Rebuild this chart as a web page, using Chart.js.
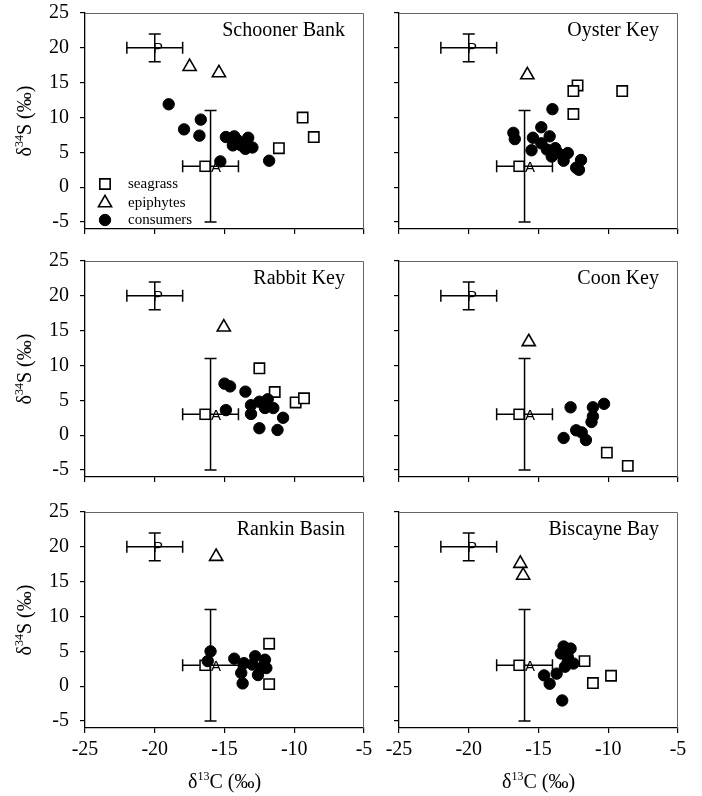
<!DOCTYPE html>
<html>
<head>
<meta charset="utf-8">
<script src="https://cdn.jsdelivr.net/npm/chart.js@4.4.1/dist/chart.umd.min.js"></script>
<style>
  html, body { margin: 0; padding: 0; background: #fff; }
  #fig { position: relative; width: 702px; height: 796px; overflow: hidden; }
  .panel { position: absolute; }
  .panel canvas { display: block; }
</style>
</head>
<body>
<div id="fig"></div>
<script>
// Axis ticks (per mil)
const xTicks = [-25, -20, -15, -10, -5];
const yTicks = [-5, 0, 5, 10, 15, 20, 25];

// End-member sources: mean ± SD for δ13C and δ34S
const endLabels = ['P', 'A'];
const endC = [-20, -16];
const endS = [20, 3];
const endCsd = [2, 2];
const endSsd = [2, 8];

// Site names, in panel order
const siteNames = ['Schooner Bank', 'Oyster Key', 'Rabbit Key', 'Coon Key', 'Rankin Basin', 'Biscayne Bay'];

// [δ13C, δ34S] pairs per site and group
const schoonerSeagrass = [[-9.4, 10.0], [-8.6, 7.2], [-11.1, 5.6]];
const schoonerEpiphytes = [[-17.5, 17.3], [-15.4, 16.4]];
const schoonerConsumers = [[-19.0, 11.9], [-16.7, 9.7], [-17.9, 8.3], [-16.8, 7.4], [-15.3, 3.7], [-11.8, 3.8],
  [-14.9, 7.2], [-14.3, 7.3], [-13.3, 7.1], [-14.4, 6.0], [-13.8, 6.0], [-13.5, 5.5], [-13.0, 5.7], [-14.05, 6.7]];

const oysterSeagrass = [[-12.2, 14.6], [-12.5, 13.8], [-9.0, 13.8], [-12.5, 10.5]];
const oysterEpiphytes = [[-15.8, 16.1]];
const oysterConsumers = [[-14.0, 11.2], [-16.8, 7.8], [-16.7, 6.9], [-14.8, 8.6], [-15.4, 7.1], [-14.2, 7.3],
  [-15.5, 5.3], [-14.8, 6.3], [-14.4, 5.4], [-13.8, 5.6], [-13.6, 4.9], [-14.05, 4.4], [-13.2, 3.8],
  [-12.9, 4.9], [-11.95, 3.9], [-12.3, 2.8], [-12.1, 2.5]];

const rabbitSeagrass = [[-12.5, 9.6], [-11.4, 6.2], [-9.9, 4.7], [-9.3, 5.3]];
const rabbitEpiphytes = [[-15.05, 15.5]];
const rabbitConsumers = [[-15.0, 7.4], [-14.6, 7.0], [-13.5, 6.25], [-13.1, 4.3], [-13.1, 3.05], [-12.5, 4.8],
  [-11.9, 5.15], [-12.1, 3.9], [-11.5, 3.9], [-10.8, 2.5], [-12.5, 1.0], [-11.2, 0.75], [-14.9, 3.6]];

const coonSeagrass = [[-10.1, -2.5], [-8.6, -4.4]];
const coonEpiphytes = [[-15.7, 13.4]];
const coonConsumers = [[-12.7, 4.0], [-11.1, 4.0], [-10.3, 4.5], [-11.1, 2.7], [-11.2, 1.9], [-12.3, 0.7],
  [-11.9, 0.4], [-11.6, -0.7], [-13.2, -0.4]];

const rankinSeagrass = [[-11.8, 6.1], [-11.8, 0.3]];
const rankinEpiphytes = [[-15.6, 18.6]];
const rankinConsumers = [[-16.0, 5.0], [-16.2, 3.6], [-14.3, 3.95], [-13.6, 3.3], [-13.8, 1.9], [-13.7, 0.4],
  [-12.8, 4.3], [-12.1, 3.8], [-12.4, 2.6], [-12.0, 2.6], [-12.6, 1.6], [-13.0, 3.1]];

const biscayneSeagrass = [[-11.7, 3.6], [-11.1, 0.45], [-9.8, 1.5]];
const biscayneEpiphytes = [[-16.3, 17.6], [-16.1, 15.9]];
const biscayneConsumers = [[-13.2, 5.7], [-12.7, 5.4], [-13.4, 4.7], [-12.9, 4.2], [-12.5, 3.25], [-13.1, 2.8],
  [-13.7, 1.8], [-14.6, 1.55], [-14.2, 0.35], [-13.3, -2.05], [-12.9, 3.5]];

const groupLabels = ['seagrass', 'epiphytes', 'consumers'];

const siteData = [
  [schoonerSeagrass, schoonerEpiphytes, schoonerConsumers],
  [oysterSeagrass, oysterEpiphytes, oysterConsumers],
  [rabbitSeagrass, rabbitEpiphytes, rabbitConsumers],
  [coonSeagrass, coonEpiphytes, coonConsumers],
  [rankinSeagrass, rankinEpiphytes, rankinConsumers],
  [biscayneSeagrass, biscayneEpiphytes, biscayneConsumers]
];

// ---- layout of the 3 x 2 grid ----
const colBox = [{ x: 0, w: 381, areaL: 85, areaR: 364 }, { x: 381, w: 321, areaL: 399, areaR: 678 }];
const rowBox = [{ y: 0, h: 246, areaT: 13, areaB: 229 }, { y: 246, h: 250, areaT: 261, areaB: 477 },
                { y: 496, h: 300, areaT: 512, areaB: 728 }];

const SERIF = '"Liberation Serif", "Times New Roman", serif';
const SANS = '"Liberation Sans", Arial, sans-serif';

const groupStyle = [
  { pointStyle: 'rect', pointRadius: 7.3, backgroundColor: '#fff', borderColor: '#000', borderWidth: 1.6 },
  { pointStyle: 'triangle', pointRadius: 7.6, backgroundColor: '#fff', borderColor: '#000', borderWidth: 1.6 },
  { pointStyle: 'circle', pointRadius: 5.7, backgroundColor: '#000', borderColor: '#000', borderWidth: 1 }
];

// text with superscript runs: parts = [[text, isSup], ...]
function drawRich(ctx, parts, x, y, size) {
  const supSize = Math.round(size * 0.62);
  let total = 0;
  for (const [t, sup] of parts) {
    ctx.font = (sup ? supSize : size) + 'px ' + SERIF;
    total += ctx.measureText(t).width;
  }
  let cx = x - total / 2;
  ctx.textAlign = 'left';
  ctx.textBaseline = 'alphabetic';
  for (const [t, sup] of parts) {
    ctx.font = (sup ? supSize : size) + 'px ' + SERIF;
    ctx.fillText(t, cx, sup ? y - size * 0.4 : y);
    cx += ctx.measureText(t).width;
  }
}

function drawMarker(ctx, style, x, y) {
  ctx.save();
  ctx.fillStyle = style.backgroundColor;
  ctx.strokeStyle = style.borderColor;
  ctx.lineWidth = style.borderWidth;
  const r = style.pointRadius;
  ctx.beginPath();
  if (style.pointStyle === 'rect') {
    const s = Math.SQRT1_2 * r;
    ctx.rect(x - s, y - s, 2 * s, 2 * s);
  } else if (style.pointStyle === 'triangle') {
    ctx.moveTo(x, y - r);
    ctx.lineTo(x + r * Math.sin(2 * Math.PI / 3), y - r * Math.cos(2 * Math.PI / 3));
    ctx.lineTo(x + r * Math.sin(4 * Math.PI / 3), y - r * Math.cos(4 * Math.PI / 3));
    ctx.closePath();
  } else {
    ctx.arc(x, y, r, 0, Math.PI * 2);
  }
  ctx.fill();
  ctx.stroke();
  ctx.restore();
}

// End-member crosses, drawn under the samples
const endMembers = {
  id: 'endMembers',
  beforeDatasetsDraw(chart) {
    const { ctx, scales: { x, y } } = chart;
    ctx.save();
    ctx.strokeStyle = '#000';
    ctx.fillStyle = '#000';
    ctx.lineWidth = 1.5;
    const cap = 6;
    for (let i = 0; i < endLabels.length; i++) {
      const px = x.getPixelForValue(endC[i]);
      const py = y.getPixelForValue(endS[i]);
      const x0 = x.getPixelForValue(endC[i] - endCsd[i]);
      const x1 = x.getPixelForValue(endC[i] + endCsd[i]);
      const y0 = y.getPixelForValue(endS[i] - endSsd[i]);
      const y1 = y.getPixelForValue(endS[i] + endSsd[i]);
      ctx.beginPath();
      ctx.moveTo(x0, py); ctx.lineTo(x1, py);
      ctx.moveTo(x0, py - cap); ctx.lineTo(x0, py + cap);
      ctx.moveTo(x1, py - cap); ctx.lineTo(x1, py + cap);
      ctx.moveTo(px, y0); ctx.lineTo(px, y1);
      ctx.moveTo(px - cap, y0); ctx.lineTo(px + cap, y0);
      ctx.moveTo(px - cap, y1); ctx.lineTo(px + cap, y1);
      ctx.stroke();
      ctx.font = '15px ' + SANS;
      ctx.textAlign = 'left';
      ctx.textBaseline = 'alphabetic';
      if (endLabels[i] === 'A') {
        ctx.fillStyle = '#fff';
        ctx.fillRect(px - 10.5, py - 5, 10, 10);
        ctx.strokeRect(px - 10.5, py - 5, 10, 10);
        ctx.fillStyle = '#000';
        ctx.fillText(endLabels[i], px + 0.5, py + 5.3);
      } else {
        ctx.fillText(endLabels[i], px - 1.8, py + 5);
      }
    }
    ctx.restore();
  }
};

// Frame, site name, legend and axis titles
const decorations = {
  id: 'decorations',
  afterDatasetsDraw(chart, args, opts) {
    const { ctx, chartArea: a } = chart;
    ctx.save();
    ctx.strokeStyle = '#666';
    ctx.lineWidth = 1;
    ctx.beginPath();
    ctx.moveTo(a.left, a.top + 0.5);
    ctx.lineTo(a.right - 0.5, a.top + 0.5);
    ctx.lineTo(a.right - 0.5, a.bottom);
    ctx.stroke();

    ctx.fillStyle = '#000';
    ctx.font = '20px ' + SERIF;
    ctx.textAlign = 'right';
    ctx.textBaseline = 'alphabetic';
    ctx.fillText(opts.site, a.right - 19, a.top + 23);

    if (opts.legend) {
      const rows = [a.bottom - 45, a.bottom - 26, a.bottom - 9];
      ctx.font = '15px ' + SERIF;
      for (let g = 0; g < groupLabels.length; g++) {
        drawMarker(ctx, groupStyle[g], a.left + 20, rows[g]);
        ctx.fillStyle = '#000';
        ctx.textAlign = 'left';
        ctx.fillText(groupLabels[g], a.left + 43, rows[g] + 4);
      }
    }

    ctx.fillStyle = '#000';
    if (opts.yTitle) {
      ctx.save();
      ctx.translate(31, (a.top + a.bottom) / 2);
      ctx.rotate(-Math.PI / 2);
      drawRich(ctx, [['δ', false], ['34', true], ['S (‰)', false]], 0, 0, 20);
      ctx.restore();
    }
    if (opts.xTitle) {
      drawRich(ctx, [['δ', false], ['13', true], ['C (‰)', false]], (a.left + a.right) / 2, chart.height - 8, 20);
    }
    ctx.restore();
  }
};

const fig = document.getElementById('fig');

siteNames.forEach((site, i) => {
  const row = Math.floor(i / 2), col = i % 2;
  const c = colBox[col], r = rowBox[row];
  const div = document.createElement('div');
  div.className = 'panel';
  div.style.left = c.x + 'px';
  div.style.top = r.y + 'px';
  div.style.width = c.w + 'px';
  div.style.height = r.h + 'px';
  const cv = document.createElement('canvas');
  cv.width = c.w;
  cv.height = r.h;
  div.appendChild(cv);
  fig.appendChild(div);

  const datasets = [2, 1, 0].map(g => Object.assign({
    label: groupLabels[g],
    data: siteData[i][g].map(p => ({ x: p[0], y: p[1] }))
  }, groupStyle[g], { pointHoverRadius: groupStyle[g].pointRadius }));

  new Chart(cv, {
    type: 'scatter',
    data: { datasets },
    plugins: [endMembers, decorations],
    options: {
      responsive: false,
      animation: false,
      devicePixelRatio: 1,
      layout: { padding: { left: 0, top: r.areaT - r.y, right: c.x + c.w - c.areaR, bottom: 0 } },
      plugins: {
        legend: { display: false },
        tooltip: { enabled: false },
        decorations: { site, legend: i === 0, yTitle: col === 0, xTitle: row === 2 }
      },
      scales: {
        x: {
          type: 'linear',
          min: -25, max: -5,
          afterBuildTicks: s => { s.ticks = xTicks.map(v => ({ value: v })); },
          afterFit: s => { s.height = r.y + r.h - r.areaB; s.paddingLeft = 0; s.paddingRight = 0; },
          ticks: {
            display: row === 2,
            color: '#000',
            font: { family: SERIF, size: 20 },
            padding: 5,
            maxRotation: 0,
            autoSkip: false
          },
          grid: { drawOnChartArea: false, drawTicks: true, tickLength: 5, color: '#000', lineWidth: 1.2 },
          border: { display: true, color: '#000', width: 1.3 }
        },
        y: {
          type: 'linear',
          min: -6, max: 25,
          afterBuildTicks: s => { s.ticks = yTicks.map(v => ({ value: v })); },
          afterFit: s => { s.width = c.areaL - c.x; s.paddingTop = 0; s.paddingBottom = 0; },
          ticks: {
            display: col === 0,
            color: '#000',
            font: { family: SERIF, size: 20 },
            padding: 11
          },
          grid: { drawOnChartArea: false, drawTicks: true, tickLength: 5, color: '#000', lineWidth: 1.2 },
          border: { display: true, color: '#000', width: 1.3 }
        }
      }
    }
  });
});
</script>
</body>
</html>
